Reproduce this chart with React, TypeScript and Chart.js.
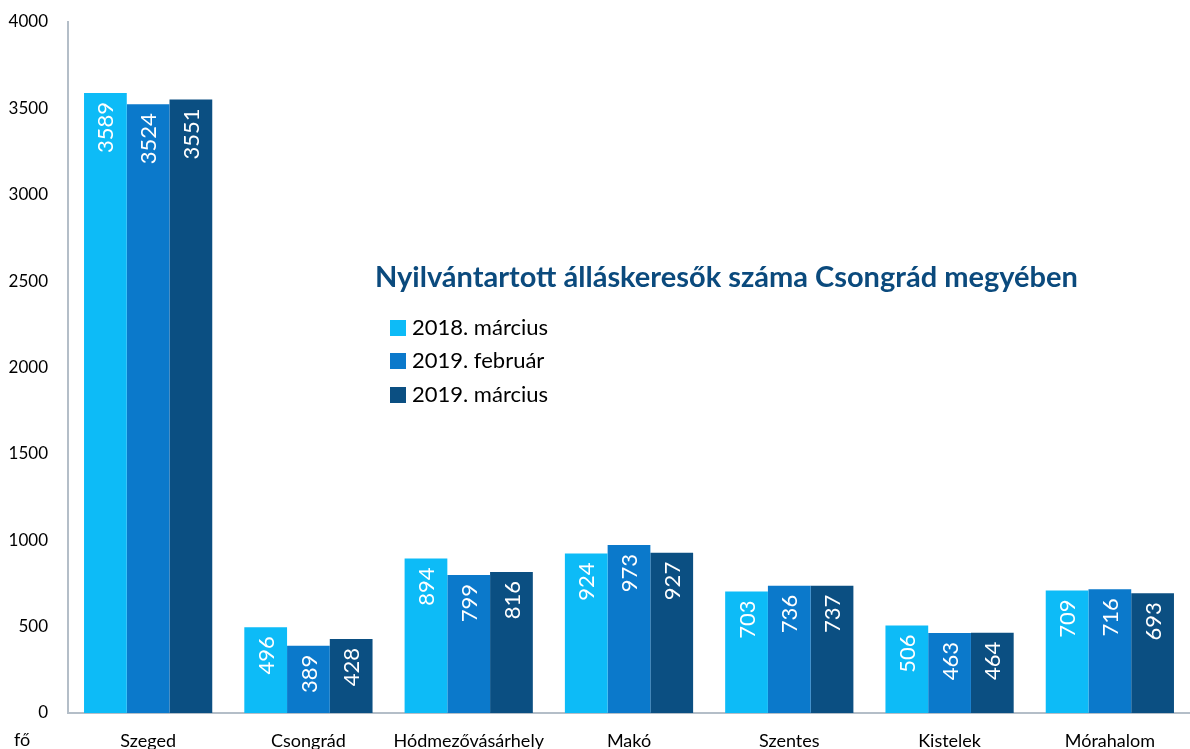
import React, { useEffect, useRef } from "react";
import { Chart, registerables } from "chart.js";

Chart.register(...registerables);

const categories = ["Szeged", "Csongrád", "Hódmezővásárhely", "Makó", "Szentes", "Kistelek", "Mórahalom"];
const series2018Mar = [3589, 496, 894, 924, 703, 506, 709];
const series2019Feb = [3524, 389, 799, 973, 736, 463, 716];
const series2019Mar = [3551, 428, 816, 927, 737, 464, 693];
const seriesLabels = ["2018. március", "2019. február", "2019. március"];
const seriesColors = ["#0DBBF7", "#0B79CB", "#0B4F82"];
const titleText = "Nyilvántartott álláskeresők száma Csongrád megyében";
const unitLabel = "fő";

const FONT = "Lato, 'Open Sans', sans-serif";

const overlayPlugin = {
  id: "overlay",
  afterDatasetsDraw(chart: any) {
    const ctx = chart.ctx;
    ctx.save();
    chart.data.datasets.forEach((ds: any, di: number) => {
      const meta = chart.getDatasetMeta(di);
      meta.data.forEach((bar: any, i: number) => {
        const v = ds.data[i];
        ctx.save();
        ctx.translate(bar.x, bar.y + 9);
        ctx.rotate(-Math.PI / 2);
        ctx.font = `22px ${FONT}`;
        ctx.fillStyle = "#ffffff";
        ctx.textAlign = "right";
        ctx.textBaseline = "middle";
        ctx.fillText(String(v), 0, 1);
        ctx.restore();
      });
    });
    ctx.font = `bold 29px ${FONT}`;
    ctx.fillStyle = "#0B4A7D";
    ctx.textAlign = "left";
    ctx.textBaseline = "middle";
    ctx.fillText(titleText, 375, 278);
    const rows = [328, 361, 395];
    chart.data.datasets.forEach((ds: any, di: number) => {
      ctx.fillStyle = seriesColors[di];
      ctx.fillRect(390, rows[di] - 8, 16, 16);
      ctx.fillStyle = "#000000";
      ctx.font = `22px ${FONT}`;
      ctx.textBaseline = "middle";
      ctx.fillText(ds.label, 412, rows[di]);
    });
    ctx.font = `18px ${FONT}`;
    ctx.fillStyle = "#000000";
    ctx.textAlign = "left";
    ctx.fillText(unitLabel, 14, 740);
    ctx.restore();
  },
};

export default function App() {
  const ref = useRef<HTMLCanvasElement | null>(null);
  useEffect(() => {
    document.body.style.margin = "0";
    const chart = new Chart(ref.current as HTMLCanvasElement, {
      type: "bar",
      data: {
        labels: categories,
        datasets: [series2018Mar, series2019Feb, series2019Mar].map((d, i) => ({
          label: seriesLabels[i],
          data: d,
          backgroundColor: seriesColors[i],
          borderWidth: 0,
          categoryPercentage: 0.8,
          barPercentage: 1.0,
        })),
      },
      options: {
        animation: false,
        responsive: false,
        maintainAspectRatio: false,
        layout: { padding: { top: 22, right: 0, left: 0, bottom: 0 } },
        plugins: {
          legend: { display: false },
          tooltip: { enabled: false },
          title: { display: false },
        },
        scales: {
          x: {
            grid: { display: false, drawTicks: false },
            border: { color: "#B4BEC8", width: 2 },
            ticks: { color: "#000", font: { family: FONT, size: 18 }, padding: 17, maxRotation: 0, autoSkip: false },
            afterFit: (s: any) => { s.height = 36; },
          },
          y: {
            min: 0,
            max: 4000,
            grid: { display: false, drawTicks: false },
            border: { color: "#B4BEC8", width: 2 },
            ticks: {
              stepSize: 500,
              color: "#000",
              font: { family: FONT, size: 17 },
              padding: 20,
              callback: (v: any) => String(v),
            },
            afterFit: (s: any) => {
              s.width = 68;
              s.paddingTop = 0;
              s.paddingBottom = 0;
            },
          },
        },
      },
      plugins: [overlayPlugin],
    });
    return () => chart.destroy();
  }, []);
  return (
    <div style={{ width: 1190, height: 749 }}>
      <canvas ref={ref} width={1190} height={749} style={{ display: "block" }} />
    </div>
  );
}
